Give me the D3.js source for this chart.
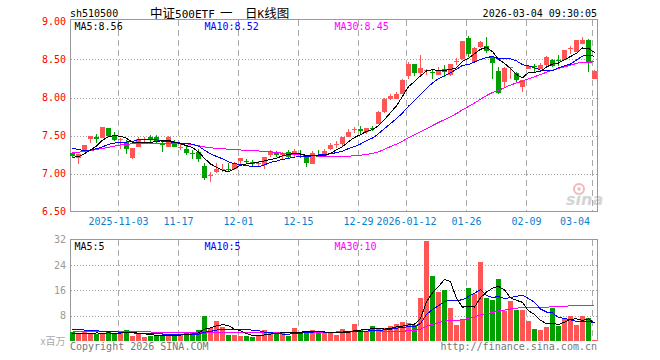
<!DOCTYPE html>
<html><head><meta charset="utf-8">
<script src="https://cdn.jsdelivr.net/npm/d3@7/dist/d3.min.js"></script>
<style>body{margin:0;background:#fff}svg{display:block}</style>
</head><body><svg id="c" width="660" height="360"></svg>
<script>
const dates = [
"2025-10-22","2025-10-23","2025-10-24","2025-10-27","2025-10-28","2025-10-29","2025-10-30","2025-10-31",
"2025-11-03","2025-11-04","2025-11-05","2025-11-06","2025-11-07","2025-11-10","2025-11-11","2025-11-12","2025-11-13","2025-11-14",
"2025-11-17","2025-11-18","2025-11-19","2025-11-20","2025-11-21","2025-11-24","2025-11-25","2025-11-26","2025-11-27","2025-11-28",
"2025-12-01","2025-12-02","2025-12-03","2025-12-04","2025-12-05","2025-12-08","2025-12-09","2025-12-10","2025-12-11","2025-12-12",
"2025-12-15","2025-12-16","2025-12-17","2025-12-18","2025-12-19","2025-12-22","2025-12-23","2025-12-24","2025-12-25","2025-12-26",
"2025-12-29","2025-12-30","2025-12-31",
"2026-01-05","2026-01-06","2026-01-07","2026-01-08","2026-01-09","2026-01-12","2026-01-13","2026-01-14","2026-01-15","2026-01-16",
"2026-01-19","2026-01-20","2026-01-21","2026-01-22","2026-01-23","2026-01-26","2026-01-27","2026-01-28","2026-01-29","2026-01-30",
"2026-02-02","2026-02-03","2026-02-04","2026-02-05","2026-02-06","2026-02-09","2026-02-10","2026-02-11","2026-02-12","2026-02-13",
"2026-02-24","2026-02-25","2026-02-26","2026-02-27","2026-03-02","2026-03-03","2026-03-04"];

const open = [7.264,7.207,7.286,7.448,7.482,7.47,7.596,7.496,7.44,7.413,7.199,7.35,7.44,7.48,7.48,7.39,7.35,7.41,7.34,7.325,7.27,7.285,
7.098,6.97,7.02,7.06,7.065,7.054,7.164,7.16,7.155,7.13,7.111,7.25,7.273,7.242,7.286,7.25,7.252,7.22,7.12,7.235,7.229,7.32,
7.38,7.386,7.482,7.57,7.583,7.544,7.605,7.649,7.807,7.974,7.982,8.04,8.28,8.447,8.325,8.35,8.342,8.29,8.373,8.30,8.48,8.513,
8.789,8.47,8.667,8.68,8.535,8.35,8.206,8.39,8.325,8.132,8.38,8.415,8.377,8.425,8.491,8.49,8.50,8.64,8.60,8.71,8.763,8.25];
const high = [7.28,7.26,7.38,7.50,7.52,7.615,7.60,7.55,7.465,7.44,7.34,7.48,7.48,7.51,7.51,7.41,7.50,7.44,7.395,7.36,7.31,7.317,
7.133,7.024,7.133,7.124,7.133,7.155,7.207,7.19,7.177,7.16,7.22,7.31,7.295,7.285,7.31,7.317,7.31,7.22,7.29,7.31,7.317,7.40,
7.425,7.482,7.58,7.614,7.62,7.60,7.627,7.825,7.987,8.05,8.075,8.25,8.47,8.447,8.557,8.38,8.37,8.395,8.425,8.447,8.518,8.741,
8.807,8.66,8.74,8.79,8.54,8.40,8.40,8.40,8.34,8.235,8.425,8.447,8.45,8.55,8.51,8.557,8.63,8.675,8.76,8.80,8.765,8.36];
const low = [7.20,7.12,7.28,7.40,7.40,7.465,7.49,7.43,7.32,7.26,7.19,7.345,7.40,7.40,7.40,7.285,7.345,7.345,7.31,7.24,7.185,7.155,
6.915,6.893,7.01,7.02,7.02,7.04,7.124,7.12,7.098,7.10,7.063,7.22,7.22,7.19,7.20,7.20,7.20,7.08,7.12,7.225,7.229,7.31,
7.33,7.35,7.482,7.535,7.526,7.52,7.56,7.649,7.80,7.965,7.982,8.04,8.25,8.28,8.28,8.30,8.25,8.29,8.272,8.285,8.425,8.50,
8.53,8.45,8.65,8.588,8.25,8.05,8.14,8.25,8.19,8.075,8.37,8.34,8.37,8.42,8.40,8.42,8.50,8.57,8.60,8.71,8.338,8.24];
const close = [7.229,7.255,7.373,7.496,7.456,7.61,7.496,7.439,7.45,7.325,7.338,7.46,7.46,7.45,7.41,7.375,7.48,7.35,7.35,7.273,7.255,7.185,
6.937,6.975,7.063,7.065,7.063,7.142,7.207,7.153,7.12,7.133,7.22,7.295,7.242,7.273,7.22,7.30,7.248,7.142,7.273,7.229,7.295,7.378,
7.385,7.482,7.548,7.579,7.561,7.60,7.60,7.807,7.978,8.018,8.044,8.228,8.447,8.316,8.39,8.368,8.316,8.368,8.342,8.447,8.482,8.741,
8.57,8.645,8.732,8.614,8.456,8.061,8.382,8.395,8.228,8.228,8.41,8.41,8.43,8.535,8.412,8.482,8.623,8.645,8.754,8.754,8.456,8.35];
// volume, x百万
const volume = [2.79,2.37,3.0,2.37,2.16,2.37,2.79,2.58,2.58,3.32,1.73,2.26,1.41,1.62,1.94,1.84,1.73,1.73,2.16,3.0,2.47,3.32,
7.78,4.17,6.19,4.28,2.05,2.05,1.62,1.62,1.41,1.62,3.32,3.0,2.26,3.0,1.73,3.96,3.0,3.0,3.32,2.47,2.47,2.6,
2.05,3.64,2.9,5.24,3.43,3.11,4.6,3.64,3.96,4.6,5.34,5.87,5.66,5.13,13.52,31.46,20.53,15.43,16.07,10.33,4.92,6.72,
16.7,15.0,25.1,13.73,12.88,19.57,9.48,12.56,9.7,9.7,6.3,3.64,3.32,4.28,10.33,4.6,7.15,8.0,4.92,7.78,7.15,0.46];
// moving-average values before the window is full
const ma5Head = [7.215,7.22,7.26,7.31];
const ma10Head = [7.335,7.315,7.30,7.31,7.325,7.35,7.385,7.40,7.41];
const ma30Head = [7.27,7.28,7.29,7.30,7.315,7.33,7.345,7.36,7.375,7.385,7.39,7.395,7.40,7.40,7.40,7.40,7.40,7.40,7.398,7.39,7.38,7.365,7.35,7.34,7.33,7.325,7.32,7.315,7.31];
const vma5Head = [2.5,2.45,2.4,2.35];
const vma10Head = [3.65,3.6,3.45,3.3,3.2,3.1,3.0,2.9,2.8];
const vma30Head = [3.05,3.05,3.05,3.05,3.05,3.05,3.05,3.05,3.05,3.05,3.05,3.05,2.95,2.85,2.75,2.7,2.65,2.65,2.65,2.65,2.65,2.65,2.65,2.65,2.65,2.65,2.65,2.65,2.65];

const priceTicks = [9.00,8.50,8.00,7.50,7.00,6.50];
const priceGrid = [8.50,8.00,7.50,7.00];
const volTicks = [32,24,16,8];
const volGrid = [24,16,8];
const dateTickDates = ["2025-11-03","2025-11-17","2025-12-01","2025-12-15","2025-12-29","2026-01-12","2026-01-26","2026-02-09","2026-03-04"];
const dateTickLabels = ["2025-11-03","11-17","12-01","12-15","12-29","2026-01-12","01-26","02-09","03-04"];
const priceMaLabels = ["MA5:8.56","MA10:8.52","MA30:8.45"];
const volMaLabels = ["MA5:5","MA10:5","MA30:10"];
const maColors = ["#000000","#0000ff","#ff00ff"];

function movingAvg(vals, n, head){
  return vals.map((v,i)=> i < n-1 ? head[i] : d3.mean(vals.slice(i-n+1,i+1)));
}

const svg = d3.select("#c");
const MONO = "'DejaVu Sans Mono', monospace";
const CJK = "'Noto Sans CJK SC', sans-serif";
const RED = "#ff5555", GREEN = "#00a000";

const x = d3.scaleBand().domain(dates).range([70,598]).padding(0);
const yP = d3.scaleLinear().domain([6.5,9]).range([211.5,21.5]);
const yV = d3.scaleLinear().domain([0,32]).range([341,239.7]);
const cx = d => x(d) + 2.5;

// header
svg.append("text").attr("x",70).attr("y",17).attr("font-family",MONO).attr("font-size",10).text("sh510500");
const title = svg.append("text").attr("y",17.5).attr("font-size",12.5).attr("font-family",CJK);
title.append("tspan").attr("x",150).text("中证");
title.append("tspan").attr("font-family",MONO).attr("font-size",11).text("500ETF ");
title.append("tspan").attr("x",220).text("一 ");
title.append("tspan").attr("x",245).text("日");
title.append("tspan").attr("font-family",MONO).attr("font-size",11).text("K");
title.append("tspan").text("线图");
svg.append("text").attr("x",597).attr("y",17).attr("text-anchor","end").attr("font-family",MONO).attr("font-size",10).text("2026-03-04 09:30:05");

// grids
const grid = svg.append("g").attr("shape-rendering","crispEdges");
grid.selectAll(".hp").data(priceGrid).enter().append("line")
  .attr("x1",71).attr("x2",597).attr("y1",d=>Math.round(yP(d))+0.5).attr("y2",d=>Math.round(yP(d))+0.5)
  .attr("stroke","#a0a0a0").attr("stroke-dasharray","1,2");
grid.selectAll(".hv").data(volGrid).enter().append("line")
  .attr("x1",71).attr("x2",597).attr("y1",d=>Math.round(yV(d))+0.5).attr("y2",d=>Math.round(yV(d))+0.5)
  .attr("stroke","#a0a0a0").attr("stroke-dasharray","1,2");
dateTickDates.forEach(d=>{
  const xx = Math.round(x(d))+0.5;
  grid.append("line").attr("x1",xx).attr("x2",xx).attr("y1",20).attr("y2",211).attr("stroke","#a8a8a8").attr("stroke-dasharray","6,4");
  grid.append("line").attr("x1",xx).attr("x2",xx).attr("y1",240).attr("y2",341).attr("stroke","#a8a8a8").attr("stroke-dasharray","6,4");
});

// watermark
const wm = svg.append("g");
wm.append("circle").attr("cx",579).attr("cy",189).attr("r",5).attr("fill","none").attr("stroke","#f2b8b8").attr("stroke-width",2);
wm.append("circle").attr("cx",579).attr("cy",189).attr("r",1.8).attr("fill","#f2b8b8");
wm.append("text").attr("x",566).attr("y",205).attr("font-family","'DejaVu Sans', sans-serif").attr("font-size",16).attr("font-style","italic").attr("font-weight","bold").attr("fill","#d4d4d4").text("sina");

// frames
const fr = svg.append("g").attr("shape-rendering","crispEdges").attr("fill","none").attr("stroke","#999");
fr.append("rect").attr("x",70.5).attr("y",19.5).attr("width",527).attr("height",192);
fr.append("path").attr("d","M70.5,341V239.5H597.5V341");

// candles
const idx = d3.range(dates.length);
const cg = svg.append("g").attr("shape-rendering","crispEdges");
cg.selectAll(".wick").data(idx).enter().append("line")
  .attr("x1",i=>cx(dates[i])).attr("x2",i=>cx(dates[i]))
  .attr("y1",i=>yP(high[i])).attr("y2",i=>yP(low[i]))
  .attr("stroke",i=>close[i]>=open[i]?RED:GREEN);
cg.selectAll(".body").data(idx).enter().append("rect")
  .attr("x",i=>x(dates[i])).attr("width",5)
  .attr("y",i=>yP(Math.max(open[i],close[i])))
  .attr("height",i=>Math.max(1,Math.abs(yP(open[i])-yP(close[i]))))
  .attr("fill",i=>close[i]>=open[i]?RED:GREEN);

// volume bars
cg.selectAll(".vol").data(idx).enter().append("rect")
  .attr("x",i=>x(dates[i])).attr("width",5)
  .attr("y",i=>yV(volume[i])).attr("height",i=>yV(0)-yV(volume[i]))
  .attr("fill",i=>close[i]>=open[i]?RED:GREEN);

// moving averages
const pMA = [movingAvg(close,5,ma5Head),movingAvg(close,10,ma10Head),movingAvg(close,30,ma30Head)];
const vMA = [movingAvg(volume,5,vma5Head),movingAvg(volume,10,vma10Head),movingAvg(volume,30,vma30Head)];
const lp = d3.line().x((v,i)=>cx(dates[i])).y(v=>yP(v));
const lv = d3.line().x((v,i)=>cx(dates[i])).y(v=>yV(v));
const mg = svg.append("g").attr("shape-rendering","crispEdges");
[2,1,0].forEach(k=>{
  mg.append("path").attr("d",lp(pMA[k])).attr("fill","none").attr("stroke",maColors[k]).attr("stroke-width",1);
  mg.append("path").attr("d",lv(vMA[k])).attr("fill","none").attr("stroke",maColors[k]).attr("stroke-width",1);
});

// MA labels
[74.5,204.5,334.5].forEach((xx,k)=>{
  svg.append("text").attr("x",xx).attr("y",29.5).attr("font-family",MONO).attr("font-size",10).attr("fill",maColors[k]).text(priceMaLabels[k]);
  svg.append("text").attr("x",xx).attr("y",249.5).attr("font-family",MONO).attr("font-size",10).attr("fill",maColors[k]).text(volMaLabels[k]);
});

// y labels
svg.selectAll(".pl").data(priceTicks).enter().append("text")
  .attr("x",66).attr("y",d=>yP(d)+3.5).attr("text-anchor","end").attr("font-family",MONO).attr("font-size",10).attr("fill","#ff0000")
  .text(d=>d.toFixed(2));
svg.selectAll(".vl").data(volTicks).enter().append("text")
  .attr("x",66).attr("y",d=>yV(d)+3.5).attr("text-anchor","end").attr("font-family",MONO).attr("font-size",10).attr("fill","#999")
  .text(d=>d);
svg.append("text").attr("x",65.5).attr("y",344.5).attr("text-anchor","end").attr("font-family",CJK).attr("font-size",10).attr("fill","#aaa").text("x百万");

// date labels
dateTickDates.forEach((d,k)=>{
  const xx = x(d)+0.5, lab = dateTickLabels[k], w = lab.length*6;
  const t = svg.append("text").attr("y",225).attr("font-family",MONO).attr("font-size",10).attr("fill","#0a7fd0").text(lab);
  if (xx + w/2 > 591) t.attr("x",590).attr("text-anchor","end");
  else t.attr("x",xx).attr("text-anchor","middle");
});

// footer
svg.append("text").attr("x",70).attr("y",350).attr("font-family",MONO).attr("font-size",10).attr("fill","#777").text("Copyright 2026 SINA.COM");
svg.append("text").attr("x",597).attr("y",350).attr("text-anchor","end").attr("font-family",MONO).attr("font-size",10).attr("fill","#777").text("http://finance.sina.com.cn");
</script></body></html>
